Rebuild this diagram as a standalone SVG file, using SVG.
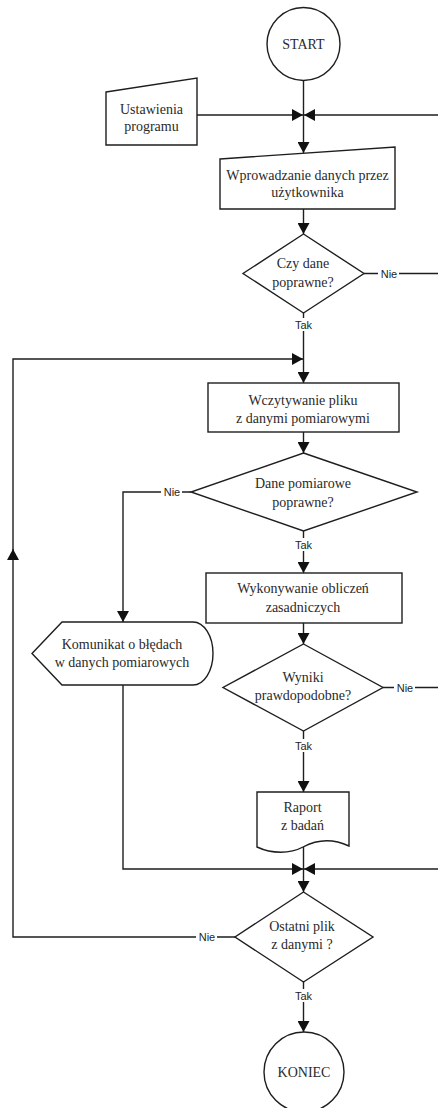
<svg xmlns="http://www.w3.org/2000/svg" width="438" height="1108" viewBox="0 0 438 1108">
<style>
.s{fill:#fff;stroke:#1e1e1e;stroke-width:1.4}
.t{font-family:"Liberation Serif","Times New Roman",serif;font-size:14px;fill:#2a2a2a;text-anchor:middle}
.c{fill:none;stroke:#1e1e1e;stroke-width:1.4}
.l{font-family:"Liberation Sans",Arial,sans-serif;font-size:11px;fill:#1e1e1e;text-anchor:middle}
.bg{fill:#fff}
</style>
<defs>
<marker id="a" markerUnits="userSpaceOnUse" markerWidth="12" markerHeight="12" refX="11" refY="6" orient="auto" viewBox="0 0 12 12">
<path d="M0,0 L11,6 L0,12 Z" fill="#111"/>
</marker>
</defs>
<rect width="438" height="1108" fill="#fff"/>
<g id="connectors">
<path class="c" d="M303.5,80.5 V153" marker-end="url(#a)"/>
<path class="c" d="M197,115 H303" marker-end="url(#a)"/>
<path class="c" d="M440,115 H304" marker-end="url(#a)"/>
<path class="c" d="M303.5,209 V234" marker-end="url(#a)"/>
<path class="c" d="M364,273.5 H440"/>
<path class="c" d="M303.5,313 V383" marker-end="url(#a)"/>
<path class="c" d="M235,937 H13 V549" marker-end="url(#a)"/>
<path class="c" d="M13,551 V359 H303" marker-end="url(#a)"/>
<path class="c" d="M303.5,432 V453" marker-end="url(#a)"/>
<path class="c" d="M191,492 H123 V622" marker-end="url(#a)"/>
<path class="c" d="M303.5,531 V573" marker-end="url(#a)"/>
<path class="c" d="M303.5,623 V644" marker-end="url(#a)"/>
<path class="c" d="M383,687.5 H440"/>
<path class="c" d="M303.5,731 V792" marker-end="url(#a)"/>
<path class="c" d="M303.5,847 V869"/>
<path class="c" d="M123,685 V869 H303" marker-end="url(#a)"/>
<path class="c" d="M440,869 H304" marker-end="url(#a)"/>
<path class="c" d="M303.5,869 V892" marker-end="url(#a)"/>
<path class="c" d="M303.5,982 V1032" marker-end="url(#a)"/>
<rect class="bg" x="293" y="318" width="21" height="13"/>
<text class="l" x="303.5" y="329">Tak</text>
<rect class="bg" x="378" y="267" width="21" height="13"/>
<text class="l" x="389" y="277.5">Nie</text>
<rect class="bg" x="161" y="486" width="21" height="13"/>
<text class="l" x="172" y="496">Nie</text>
<rect class="bg" x="293" y="538" width="21" height="13"/>
<text class="l" x="303.5" y="549">Tak</text>
<rect class="bg" x="394" y="681" width="21" height="13"/>
<text class="l" x="405" y="691.5">Nie</text>
<rect class="bg" x="293" y="739" width="21" height="13"/>
<text class="l" x="303.5" y="750">Tak</text>
<rect class="bg" x="196" y="931" width="21" height="13"/>
<text class="l" x="207" y="941">Nie</text>
<rect class="bg" x="293" y="989" width="21" height="13"/>
<text class="l" x="303.5" y="1000">Tak</text>
</g>
<g id="start">
<circle class="s" cx="303.5" cy="44" r="36.5"/>
<text class="t" x="303.5" y="48.5">START</text>
</g>
<g id="ustawienia">
<polygon class="s" points="106,92 197,78 197,145 106,145"/>
<text class="t" x="151.5" y="114">Ustawienia</text>
<text class="t" x="151.5" y="131">programu</text>
</g>
<g id="wprowadzanie">
<polygon class="s" points="220,159 395,147 395,209 220,209"/>
<text class="t" x="307.5" y="180">Wprowadzanie danych przez</text>
<text class="t" x="307.5" y="197">użytkownika</text>
</g>
<g id="czy-dane">
<polygon class="s" points="303.5,234 364,273.5 303.5,313 243,273.5"/>
<text class="t" x="303" y="268">Czy dane</text>
<text class="t" x="303" y="287">poprawne?</text>
</g>
<g id="wczytywanie">
<rect class="s" x="208" y="383" width="191" height="49"/>
<text class="t" x="303" y="405">Wczytywanie pliku</text>
<text class="t" x="303" y="423">z danymi pomiarowymi</text>
</g>
<g id="dane-pomiarowe">
<polygon class="s" points="303.5,453 417,492 303.5,531 191,492"/>
<text class="t" x="303" y="488">Dane pomiarowe</text>
<text class="t" x="303" y="507">poprawne?</text>
</g>
<g id="wykonywanie">
<rect class="s" x="206" y="573" width="196" height="50"/>
<text class="t" x="303" y="593">Wykonywanie obliczeń</text>
<text class="t" x="303" y="612">zasadniczych</text>
</g>
<g id="komunikat">
<path class="s" d="M32,653.5 L62,622 H193 A20,31.5 0 0 1 193,685 H62 Z"/>
<text class="t" x="122" y="649">Komunikat o błędach</text>
<text class="t" x="122" y="667">w danych pomiarowych</text>
</g>
<g id="wyniki">
<polygon class="s" points="303.5,644 383,687.5 303.5,731 223,687.5"/>
<text class="t" x="303" y="682">Wyniki</text>
<text class="t" x="303" y="700">prawdopodobne?</text>
</g>
<g id="raport">
<path class="s" d="M257,792 H349 V846 C332,838 316,840 303,847 C290,854 272,854 257,847 Z"/>
<text class="t" x="302.5" y="812">Raport</text>
<text class="t" x="302.5" y="830">z badań</text>
</g>
<g id="ostatni">
<polygon class="s" points="303.5,892 373,937 303.5,982 235,937"/>
<text class="t" x="302" y="931">Ostatni plik</text>
<text class="t" x="302" y="949">z danymi ?</text>
</g>
<g id="koniec">
<circle class="s" cx="304" cy="1072" r="40"/>
<text class="t" x="304" y="1077">KONIEC</text>
</g>
</svg>
